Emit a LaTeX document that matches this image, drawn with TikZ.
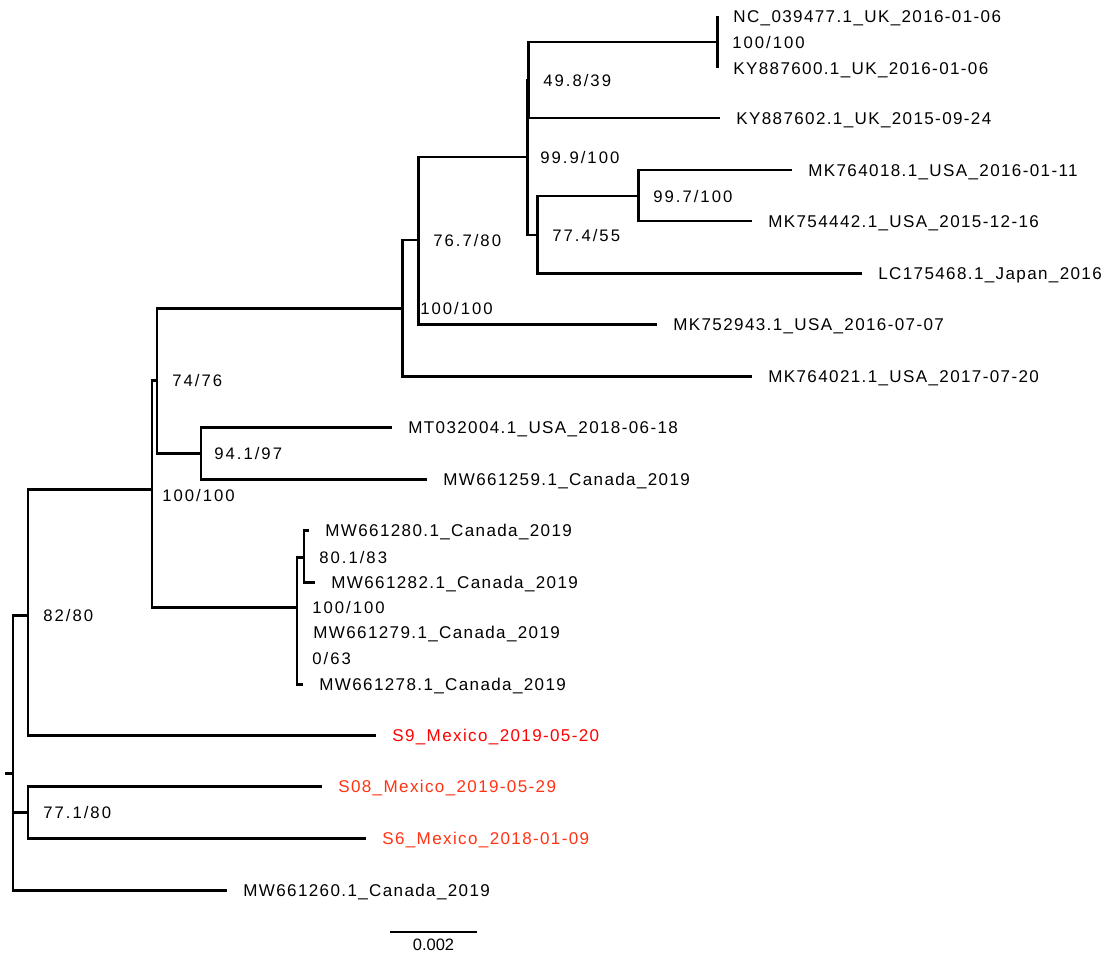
\documentclass[tikz,border=0pt]{standalone}
\usepackage{fontspec}
\setmainfont{Liberation Sans}
\newfontfamily\leaffont[LetterSpace=8]{Liberation Sans}
\newfontfamily\supfont[LetterSpace=12]{Liberation Sans}
\usepackage{xcolor}
\definecolor{mexred}{RGB}{255,0,0}
\definecolor{mexorange}{RGB}{255,51,20}
\tikzset{
  branch/.style={line width=1.7pt, line join=miter},
  leaf/.style={anchor=west, inner sep=0pt, xshift=0.32cm, font=\fontsize{9.7}{11}\leaffont, text height=1.38ex, text depth=0pt},
  support/.style={anchor=west, inner sep=0pt, xshift=0.3cm, font=\fontsize{9.5}{11}\supfont, text height=1.38ex, text depth=0pt},
}

\begin{document}
\begin{tikzpicture}[x=0.02cm, y=-0.02cm]
\useasboundingbox (0,0) rectangle (1104,957);
% internal nodes
\coordinate (rt) at (5,773);
\coordinate (r) at (13,773);
\coordinate (n82) at (28,615);
\coordinate (n100a) at (152,489);
\coordinate (n74) at (157,380);
\coordinate (n100b) at (402,308);
\coordinate (n767) at (418,240);
\coordinate (n999) at (527,157);
\coordinate (n498) at (528,80);
\coordinate (n100c) at (717,42);
\coordinate (n774) at (537,235);
\coordinate (n997) at (638,196);
\coordinate (n941) at (201,453);
\coordinate (n100d) at (297,607);
\coordinate (n801) at (304,557);
\coordinate (n063) at (297,658);
\coordinate (n771) at (28,812);
% tips
\coordinate (tnc) at (717,16);
\coordinate (tky600) at (717,68);
\coordinate (tky602) at (720,118);
\coordinate (tmk018) at (792,170);
\coordinate (tmk442) at (752,221);
\coordinate (tlc) at (862,273);
\coordinate (tmk943) at (657,324);
\coordinate (tmk021) at (752,376);
\coordinate (tmt) at (392,427);
\coordinate (tmw259) at (427,479);
\coordinate (tmw280) at (309,530);
\coordinate (tmw282) at (315,582);
\coordinate (tmw279) at (297,632);
\coordinate (tmw278) at (303,684);
\coordinate (ts9) at (376,735);
\coordinate (ts08) at (322,786);
\coordinate (ts6) at (366,838);
\coordinate (tmw260) at (227,890);

% branches
\draw[branch] (rt) -- (r);
\draw[branch] (r) |- (n82);
\draw[branch] (r) |- (n771);
\draw[branch] (r) |- (tmw260);
\draw[branch] (n82) |- (n100a);
\draw[branch] (n82) |- (ts9);
\draw[branch] (n100a) |- (n74);
\draw[branch] (n100a) |- (n100d);
\draw[branch] (n74) |- (n100b);
\draw[branch] (n74) |- (n941);
\draw[branch] (n100b) |- (n767);
\draw[branch] (n100b) |- (tmk021);
\draw[branch] (n767) |- (n999);
\draw[branch] (n767) |- (tmk943);
\draw[branch] (n999) |- (n498);
\draw[branch] (n999) |- (n774);
\draw[branch] (n498) |- (n100c);
\draw[branch] (n498) |- (tky602);
\draw[branch] (n100c) |- (tnc);
\draw[branch] (n100c) |- (tky600);
\draw[branch] (n774) |- (n997);
\draw[branch] (n774) |- (tlc);
\draw[branch] (n997) |- (tmk018);
\draw[branch] (n997) |- (tmk442);
\draw[branch] (n941) |- (tmt);
\draw[branch] (n941) |- (tmw259);
\draw[branch] (n100d) |- (n801);
\draw[branch] (n100d) |- (n063);
\draw[branch] (n801) |- (tmw280);
\draw[branch] (n801) |- (tmw282);
\draw[branch] (n063) |- (tmw279);
\draw[branch] (n063) |- (tmw278);
\draw[branch] (n771) |- (ts08);
\draw[branch] (n771) |- (ts6);

% tip labels
\node[leaf] (lnc) at (tnc) {NC\_039477.1\_UK\_2016-01-06};
\node[leaf] (lky600) at (tky600) {KY887600.1\_UK\_2016-01-06};
\node[leaf] (lky602) at (tky602) {KY887602.1\_UK\_2015-09-24};
\node[leaf] (lmk018) at (tmk018) {MK764018.1\_USA\_2016-01-11};
\node[leaf] (lmk442) at (tmk442) {MK754442.1\_USA\_2015-12-16};
\node[leaf] (llc) at (tlc) {LC175468.1\_Japan\_2016};
\node[leaf] (lmk943) at (tmk943) {MK752943.1\_USA\_2016-07-07};
\node[leaf] (lmk021) at (tmk021) {MK764021.1\_USA\_2017-07-20};
\node[leaf] (lmt) at (tmt) {MT032004.1\_USA\_2018-06-18};
\node[leaf] (lmw259) at (tmw259) {MW661259.1\_Canada\_2019};
\node[leaf] (lmw280) at (tmw280) {MW661280.1\_Canada\_2019};
\node[leaf] (lmw282) at (tmw282) {MW661282.1\_Canada\_2019};
\node[leaf] (lmw279) at (tmw279) {MW661279.1\_Canada\_2019};
\node[leaf] (lmw278) at (tmw278) {MW661278.1\_Canada\_2019};
\node[leaf, text=mexred] (ls9) at (ts9) {S9\_Mexico\_2019-05-20};
\node[leaf, text=mexorange] (ls08) at (ts08) {S08\_Mexico\_2019-05-29};
\node[leaf, text=mexorange] (ls6) at (ts6) {S6\_Mexico\_2018-01-09};
\node[leaf] (lmw260) at (tmw260) {MW661260.1\_Canada\_2019};

% support values
\node[support] (s100c) at (n100c) {100/100};
\node[support] (s498) at (n498) {49.8/39};
\node[support, xshift=-0.04cm] (s999) at (n999) {99.9/100};
\node[support] (s997) at (n997) {99.7/100};
\node[support] (s774) at (n774) {77.4/55};
\node[support] (s767) at (n767) {76.7/80};
\node[support, xshift=0.06cm] (s100b) at (n100b) {100/100};
\node[support] (s74) at (n74) {74/76};
\node[support, xshift=-0.04cm] (s941) at (n941) {94.1/97};
\node[support, xshift=-0.1cm, yshift=-0.12cm] (s100a) at (n100a) {100/100};
\node[support] (s100d) at (n100d) {100/100};
\node[support] (s801) at (n801) {80.1/83};
\node[support] (s063) at (n063) {0/63};
\node[support] (s82) at (n82) {82/80};
\node[support] (s771) at (n771) {77.1/80};

% scale bar
\coordinate (sbl) at (390,932);
\coordinate (sbr) at (477,932);
\draw[line width=0.8pt] (sbl) -- (sbr) node[midway, below=0.12cm, inner sep=0pt, font=\fontsize{9.4}{11}\selectfont] (sblabel) {0.002};
\end{tikzpicture}
\end{document}
